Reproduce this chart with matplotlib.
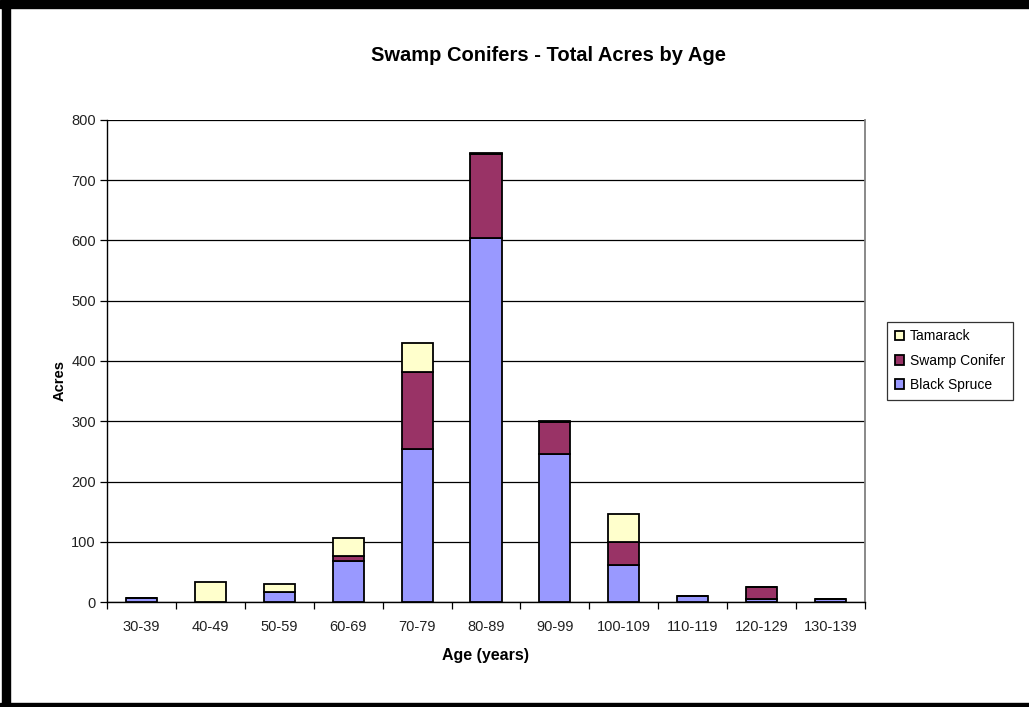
import matplotlib
matplotlib.use("Agg")
import matplotlib.pyplot as plt
from matplotlib.patches import Rectangle
import numpy as np

plt.rcParams['font.family'] = ['Liberation Sans', 'DejaVu Sans']

age_classes = ["30-39", "40-49", "50-59", "60-69", "70-79", "80-89",
               "90-99", "100-109", "110-119", "120-129", "130-139"]
black_spruce = [6, 0, 17, 68, 254, 604, 245, 62, 10, 5, 5]
swamp_conifer = [0, 0, 0, 9, 127, 139, 53, 37, 0, 20, 0]
tamarack = [0, 33, 13, 29, 49, 3, 3, 47, 0, 0, 0]

series = [("Black Spruce", black_spruce, "#9999FF"),
          ("Swamp Conifer", swamp_conifer, "#993366"),
          ("Tamarack", tamarack, "#FFFFCC")]

fig = plt.figure(figsize=(10.29, 7.07), dpi=100)
ax = fig.add_axes([0.104, 0.1485, 0.7366, 0.6818])

x = np.arange(len(age_classes))
bottom = np.zeros(len(age_classes))
handles = []
for name, vals, color in series:
    vals = np.array(vals, dtype=float)
    bars = ax.bar(x, vals, width=0.45, bottom=bottom, color=color,
                  edgecolor="black", linewidth=1.3, label=name, zorder=3)
    handles.append(bars)
    bottom += vals

ax.set_xlim(-0.5, len(age_classes) - 0.5)
ax.set_ylim(0, 800)
ax.set_yticks(np.arange(0, 801, 100))
ax.yaxis.grid(True, color="black", linewidth=0.9, zorder=0)
ax.set_axisbelow(True)

ax.set_xticks(x)
ax.set_xticklabels(age_classes)
ax.set_xticks(np.arange(-0.5, len(age_classes), 1.0), minor=True)
ax.tick_params(axis="x", which="major", length=0, pad=13)
ax.tick_params(axis="x", which="minor", length=5, direction="out", width=0.9)
ax.tick_params(axis="y", length=5, direction="out", width=0.9, pad=3)
for lbl in ax.get_xticklabels() + ax.get_yticklabels():
    lbl.set_fontsize(10.5)
    lbl.set_color("#222222")

for side in ("left", "bottom"):
    ax.spines[side].set_color("black")
    ax.spines[side].set_linewidth(1.0)
ax.spines["right"].set_color("#808080")
ax.spines["right"].set_linewidth(1.3)
ax.spines["top"].set_visible(False)

fig.text(0.5335, 0.922, "Swamp Conifers - Total Acres by Age", ha="center",
         va="center", fontsize=14.5, fontweight="bold")
fig.text(0.472, 0.073, "Age (years)", ha="center", va="center",
         fontsize=11.5, fontweight="bold")
fig.text(0.058, 0.462, "Acres", ha="center", va="center", rotation=90,
         fontsize=10.5, fontweight="bold")

leg = fig.legend(handles[::-1], [s[0] for s in series[::-1]],
                 loc="upper left", bbox_to_anchor=(0.862, 0.545),
                 borderaxespad=0, frameon=True, fancybox=False,
                 edgecolor="black", fontsize=10,
                 handlelength=0.7, handleheight=0.7,
                 handletextpad=0.4, labelspacing=0.75, borderpad=0.55)
leg.get_frame().set_linewidth(0.9)

# heavy frame around the chart sheet
fig.patches.append(Rectangle((0.002, 0), 0.008, 1, transform=fig.transFigure,
                             color="black", zorder=10))
fig.patches.append(Rectangle((0, 0.988), 1, 0.012, transform=fig.transFigure,
                             color="black", zorder=10))
fig.patches.append(Rectangle((0, 0), 1, 0.006, transform=fig.transFigure,
                             color="black", zorder=10))

fig.savefig("out.png", dpi=100)
